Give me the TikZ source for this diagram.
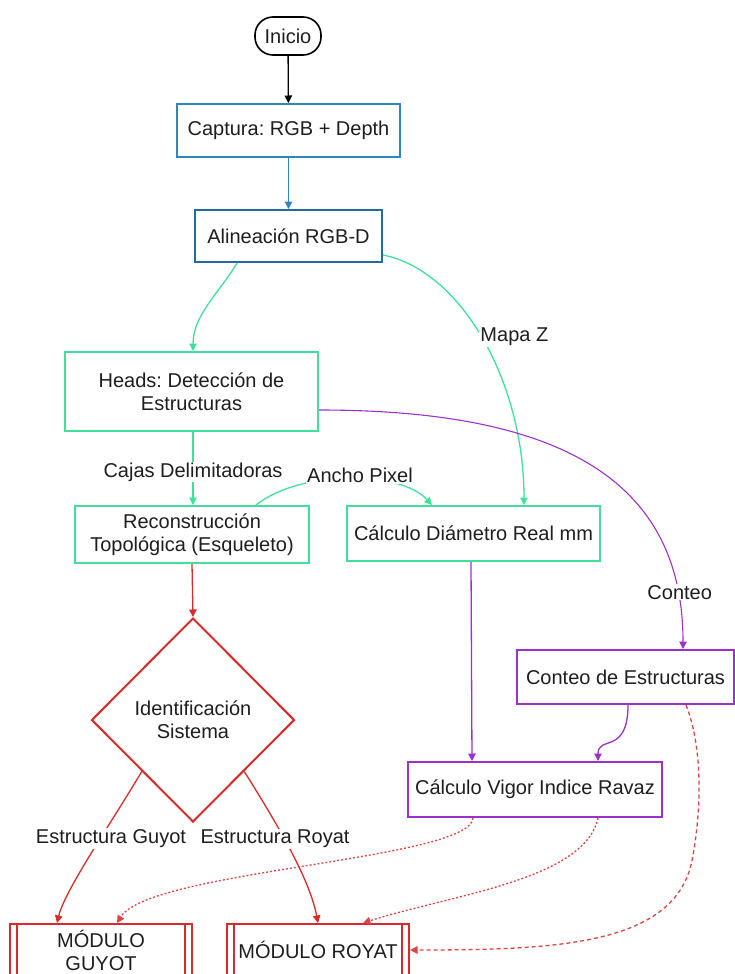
\documentclass[tikz,border=0pt]{standalone}
\usepackage{fontspec}
\setmainfont{Liberation Sans}
\usetikzlibrary{shapes.geometric,arrows.meta,calc}
\definecolor{cblue}{HTML}{2E86C1}
\definecolor{cgreen}{HTML}{3EE09A}
\definecolor{cpurple}{HTML}{9B30CC}
\definecolor{cred}{HTML}{D92B2B}
\definecolor{cdot}{HTML}{DB4545}
\definecolor{ink}{HTML}{1E1E1E}
\frenchspacing

\begin{document}
\begin{tikzpicture}[x=1pt,y=-1pt,
  every node/.style={font=\fontsize{20}{23}\selectfont, text=ink},
  box/.style={draw, rectangle, line width=2pt, inner sep=0pt, align=center, fill=white},
  start/.style={draw=black, line width=1.6pt, rounded corners=18pt, minimum width=66pt, minimum height=38pt, inner sep=0pt},
  decision/.style={draw=cred, line width=2pt, diamond, aspect=1, inner sep=0pt, minimum width=203pt, minimum height=204pt, align=center},
  proc/.style={box, draw=cred},
  edge/.style={line width=1.3pt, -{Triangle[length=7.5pt,width=7.5pt]}},
  dotedge/.style={line width=1.3pt, cdot, dash pattern=on 2pt off 2pt, -{Triangle[length=7.5pt,width=7.5pt]}},
  dashedge/.style={line width=1.3pt, cdot, dash pattern=on 4pt off 3pt, -{Triangle[length=7.5pt,width=7.5pt]}},
  lbl/.style={fill=white, inner sep=1pt}
]
\useasboundingbox (0,0) rectangle (735,974);
\clip (0,0) rectangle (735,974);

% process nodes
\node[start] (ini) at (288,36) {Inicio};
\node[box, draw=cblue, minimum width=223pt, minimum height=53pt] (cap) at (288.5,130.5) {Captura: RGB + Depth};
\node[box, draw=cblue!80!black, minimum width=187pt, minimum height=52pt] (ali) at (288.5,236) {Alineación RGB-D};
\node[box, draw=cgreen, minimum width=253pt, minimum height=79pt] (heads) at (191.5,391.5) {Heads: Detección de\\Estructuras};
\node[box, draw=cgreen, minimum width=234pt, minimum height=57pt] (recon) at (192,534.5) {Reconstrucción\\Topológica (Esqueleto)};
\node[box, draw=cgreen, minimum width=253pt, minimum height=55pt] (diam) at (473.5,533.5) {Cálculo Diámetro Real mm};
\node[box, draw=cpurple, minimum width=217pt, minimum height=54pt] (conteo) at (625.5,677) {Conteo de Estructuras};
\node[box, draw=cpurple, minimum width=254pt, minimum height=55pt] (vigor) at (535,789.5) {Cálculo Vigor Indice Ravaz};
\node[decision] (dia) at (193,720) {Identificación\\Sistema};
\node[proc, minimum width=182pt, minimum height=52pt] (guyot) at (101,950) {MÓDULO\\GUYOT};
\node[proc, minimum width=182pt, minimum height=52pt] (royat) at (318,950) {MÓDULO ROYAT};
\foreach \n in {guyot,royat}{
  \draw[cred, line width=2pt] ([xshift=8pt]\n.north west) -- ([xshift=8pt]\n.south west)
    ([xshift=-8pt]\n.north east) -- ([xshift=-8pt]\n.south east);
}

% connectors
\draw[edge, black] (ini) -- (cap);
\draw[edge, cblue] (cap) -- (ali);
\draw[edge, cgreen] ([xshift=-51.5pt]ali.south) .. controls (220,292) and (193,315) .. ([xshift=1.5pt]heads.north);
\draw[edge, cgreen] ([yshift=-19pt]ali.east) .. controls (460,270) and (524,380) .. ([xshift=50.5pt]diam.north)
  node[lbl, pos=0.5, xshift=32pt, yshift=2pt] {Mapa Z};
\draw[edge, cgreen] ([xshift=1.5pt]heads.south) -- ([xshift=1pt]recon.north)
  node[lbl, pos=0.5, yshift=-3.5pt] {Cajas Delimitadoras};
\draw[edge, cgreen] ([xshift=64pt]recon.north) .. controls (300,470) and (400,470) .. ([xshift=-41.5pt]diam.north)
  node[lbl, pos=0.5, xshift=11.5pt, yshift=3pt] {Ancho Pixel};
\draw[edge, cpurple, line width=1.1pt] ([yshift=-18.5pt]heads.east) .. controls (560,410) and (683,480) .. ([xshift=57.5pt]conteo.north)
  node[lbl, pos=0.88, xshift=2pt] {Conteo};
\draw[edge, cpurple] ([xshift=-2.5pt]diam.south) -- ([xshift=-63pt]vigor.north);
\draw[edge, cpurple] ([xshift=2.5pt]conteo.south) .. controls (628,755) and (598,735) .. ([xshift=63pt]vigor.north);
\draw[edge, cred] (recon.south) -- (dia.north);
\draw[edge, cred] ($(dia.west)!0.5!(dia.south)$) .. controls (110,825) and (65,890) .. ([xshift=-44pt]guyot.north)
  node[lbl, pos=0.4, xshift=10.5pt] {Estructura Guyot};
\draw[edge, cred] ($(dia.east)!0.5!(dia.south)$) .. controls (278,825) and (310,880) .. (royat.north)
  node[lbl, pos=0.4, xshift=-7.5pt, yshift=-3pt] {Estructura Royat};
\draw[dotedge] ([xshift=-62pt]vigor.south) .. controls (470,860) and (150,870) .. ([xshift=16pt]guyot.north);
\draw[dotedge] ([xshift=63pt]vigor.south) .. controls (585,880) and (450,895) .. ([xshift=45pt]royat.north);
\draw[dashedge] ([xshift=60.5pt]conteo.south) .. controls (702,745) and (702,805) .. (693,855)
  .. controls (680,945) and (560,950) .. (royat.east);
\end{tikzpicture}
\end{document}
